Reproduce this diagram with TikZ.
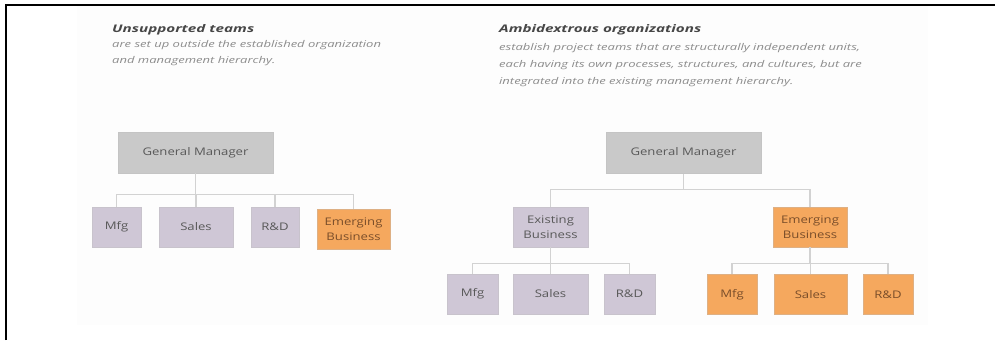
\documentclass[tikz,border=0pt]{standalone}
\usepackage{fontspec}
\setmainfont{Open Sans}
\newfontfamily\widebox[FakeStretch=1.25]{Open Sans}
\newfontfamily\widetext[FakeStretch=1.4]{Open Sans}
\newfontfamily\widehead[FakeStretch=1.45]{Open Sans}
\begin{document}
\begin{tikzpicture}[x=1pt,y=-1pt,
  box/.style={draw=#1!85!black!70, line width=0.8pt, inner sep=1pt, align=center,
    font=\widebox\fontsize{10.5}{14.5}\selectfont, text=black!65},
  gmbox/.style={box=gmfill, fill=gmfill, minimum width=155pt, minimum height=41pt},
  unit/.style={box=unitfill, fill=unitfill, minimum height=40pt},
  hot/.style={box=hotfill, fill=hotfill, minimum height=40pt, text=hottext},
  conn/.style={draw=connc, line width=1.1pt},
  heading/.style={anchor=base west, inner sep=0pt, font=\widehead\fontsize{10.5}{12}\selectfont\bfseries\itshape, text=black!72},
  body/.style={anchor=base west, inner sep=0pt, font=\widetext\fontsize{9.3}{12}\selectfont\itshape, text=black!45}
]
\definecolor{gmfill}{HTML}{C9C9C9}
\definecolor{unitfill}{HTML}{CFC7D6}
\definecolor{hotfill}{HTML}{F5A85E}
\definecolor{hottext}{HTML}{7A4E2A}
\definecolor{connc}{HTML}{D2D2D2}
\definecolor{panel}{HTML}{FDFDFD}

\useasboundingbox (0,0) rectangle (995,340);
\fill[white] (0,0) rectangle (995,340);
% faint page panel
\fill[panel] (77,6) rectangle (928,325);
% frame edges
\draw[line width=2.5pt, black] (6,340) -- (6,5) -- (995,5);

% ---- left: unsupported teams ----
\node[heading] (ltitle) at (112,32) {Unsupported teams};
\node[body] (lline1) at (112,47) {are set up outside the established organization};
\node[body] (lline2) at (112,63) {and management hierarchy.};

\node[gmbox] (lgm) at (195.5,152.5) {General Manager};
\node[unit, minimum width=49pt] (lmfg) at (116.5,227) {Mfg};
\node[unit, minimum width=74pt] (lsales) at (196,227) {Sales};
\node[unit, minimum width=48pt] (lrd) at (275,227) {R\&D};
\node[hot, minimum width=73pt] (lemerg) at (353.5,229) {Emerging\\Business};

\draw[conn] (lgm.south) -- ++(0,21) -| (lmfg.north);
\draw[conn] (lgm.south) -- ++(0,21) -| (lsales.north);
\draw[conn] (lgm.south) -- ++(0,21) -| (lrd.north);
\draw[conn] (lgm.south) -- ++(0,21) -| (lemerg.north);

% ---- right: ambidextrous organizations ----
\node[heading] (rtitle) at (499,32) {Ambidextrous organizations};
\node[body] (rline1) at (499,50) {establish project teams that are structurally independent units,};
\node[body] (rline2) at (499,67) {each having its own processes, structures, and cultures, but are};
\node[body] (rline3) at (499,84) {integrated into the existing management hierarchy.};

\node[gmbox] (rgm) at (683.5,153) {General Manager};
\node[unit, minimum width=75pt] (exist) at (550.5,227) {Existing\\Business};
\node[hot, minimum width=74pt] (emerg) at (810,227) {Emerging\\Business};

\draw[conn] (rgm.south) -- ++(0,16) -| (exist.north);
\draw[conn] (rgm.south) -- ++(0,16) -| (emerg.north);

\node[unit, minimum width=51pt] (emfg) at (472.5,294) {Mfg};
\node[unit, minimum width=75pt] (esales) at (550.5,294) {Sales};
\node[unit, minimum width=51pt] (erd) at (629.5,294) {R\&D};

\draw[conn] (exist.south) -- ++(0,16) -| (emfg.north);
\draw[conn] (exist.south) -- ++(0,16) -| (esales.north);
\draw[conn] (exist.south) -- ++(0,16) -| (erd.north);

\node[hot, minimum width=50pt] (hmfg) at (732,294.5) {Mfg};
\node[hot, minimum width=73pt] (hsales) at (810.5,294.5) {Sales};
\node[hot, minimum width=50pt] (hrd) at (888,294.5) {R\&D};

\draw[conn] (emerg.south) -- ++(0,16) -| (hmfg.north);
\draw[conn] (emerg.south) -- ++(0,16) -| (hsales.north);
\draw[conn] (emerg.south) -- ++(0,16) -| (hrd.north);
\end{tikzpicture}
\end{document}
